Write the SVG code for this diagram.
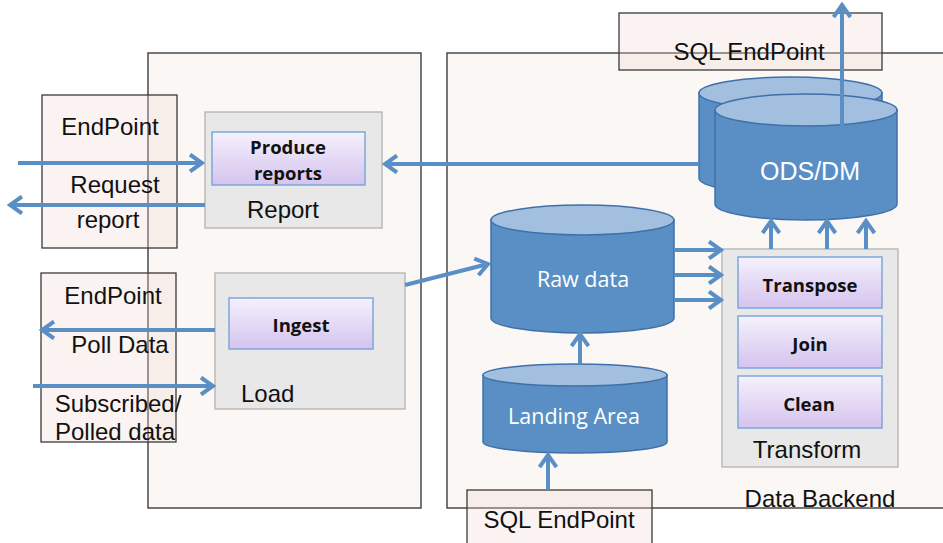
<svg xmlns="http://www.w3.org/2000/svg" width="943" height="543" viewBox="0 0 943 543">
<style>
.panel{fill:#faf7f4;stroke:#4a4a4a;stroke-width:1.5}
.ep{fill:#f2d6d2;fill-opacity:0.3;stroke:#3a3a3a;stroke-width:1.3}
.grey{fill:#e8e8e8;stroke:#b3b3b3;stroke-width:1.3}
.task{fill:url(#lav);stroke:#7ba7da;stroke-width:1.5}
.body{fill:#5a8fc6;stroke:#3f70aa;stroke-width:1.5}
.top{fill:#a2bfdf;stroke:#3f70aa;stroke-width:1.5}
.lbl{font-family:"Liberation Sans",Arial,sans-serif;font-size:24px;fill:#111}
.w{font-family:"Liberation Sans",Arial,sans-serif;font-size:25px;fill:#fff}
.cyl{font-family:"Open Sans","Noto Sans",sans-serif;font-size:21.5px;fill:#fff}
.b{font-family:"Open Sans","Noto Sans",sans-serif;font-size:18.5px;font-weight:bold;fill:#111}
.c{text-anchor:middle}
.arr{stroke:#5a8fc6;stroke-width:4;fill:none;marker-end:url(#ah)}
</style>
<defs>
<linearGradient id="lav" x1="0" y1="0" x2="0" y2="1">
<stop offset="0" stop-color="#f5f1fc"/>
<stop offset="1" stop-color="#d5c3ee"/>
</linearGradient>
<marker id="ah" markerUnits="userSpaceOnUse" viewBox="0 0 20 20" markerWidth="20" markerHeight="20" refX="17" refY="10" orient="auto">
<path d="M5,1.5 L17,10 L5,18.5" fill="none" stroke="#5a8fc6" stroke-width="4"/>
</marker>
</defs>

<g id="panel-left"><rect class="panel" x="148" y="53" width="273" height="455"/></g>
<g id="panel-backend"><rect class="panel" x="447" y="53" width="510" height="455"/>
<text class="lbl c" x="820" y="507">Data Backend</text></g>

<g id="endpoint-report"><rect class="ep" x="42" y="95" width="135" height="153"/>
<text class="lbl c" x="110" y="135">EndPoint</text>
<text class="lbl c" x="115" y="193">Request</text>
<text class="lbl c" x="108" y="228">report</text></g>

<g id="endpoint-load"><rect class="ep" x="41" y="273" width="135" height="169"/>
<text class="lbl c" x="113" y="304">EndPoint</text>
<text class="lbl c" x="120" y="353">Poll Data</text>
<text class="lbl c" x="118" y="412">Subscribed/</text>
<text class="lbl c" x="115" y="440">Polled data</text></g>

<g id="sql-top"><rect class="ep" x="619" y="13" width="263" height="57"/>
<text class="lbl c" x="749" y="60">SQL EndPoint</text></g>

<g id="sql-bottom"><rect class="ep" x="467" y="490" width="185" height="60"/>
<text class="lbl c" x="559" y="528">SQL EndPoint</text></g>

<g id="report"><rect class="grey" x="205" y="112" width="177" height="116"/>
<text class="lbl c" x="283" y="218">Report</text></g>
<g id="produce-reports"><rect class="task" x="212" y="132" width="153" height="53"/>
<text class="b c" x="288" y="154">Produce</text>
<text class="b c" x="288" y="180">reports</text></g>

<g id="load"><rect class="grey" x="215" y="273" width="190" height="136"/>
<text class="lbl" x="241" y="402">Load</text></g>
<g id="ingest"><rect class="task" x="229" y="298" width="144" height="51"/>
<text class="b c" x="301" y="332">Ingest</text></g>

<g id="ods-dm">
<path class="body" d="M699,93 L699,178 A91.5,16 0 0 0 882,178 L882,93 Z"/>
<ellipse class="top" cx="790.5" cy="93" rx="91.5" ry="16"/>
<path class="body" d="M715,110 L715,204 A91,16 0 0 0 897,204 L897,110 Z"/>
<ellipse class="top" cx="806" cy="110" rx="91" ry="16"/>
<text class="w c" x="810" y="180">ODS/DM</text></g>

<g id="raw-data">
<path class="body" d="M491,220 L491,318 A91.5,15 0 0 0 674,318 L674,220 Z"/>
<ellipse class="top" cx="582.5" cy="220" rx="91.5" ry="15"/>
<text class="cyl c" x="583" y="287">Raw data</text></g>

<g id="landing-area">
<path class="body" d="M483,375 L483,442 A92,11 0 0 0 667,442 L667,375 Z"/>
<ellipse class="top" cx="575" cy="375" rx="92" ry="11"/>
<text class="cyl c" x="574" y="424">Landing Area</text></g>

<g id="transform"><rect class="grey" x="722" y="249" width="176" height="218"/>
<text class="lbl c" x="807" y="458">Transform</text></g>
<g id="transpose"><rect class="task" x="738" y="257" width="144" height="51"/>
<text class="b c" x="810" y="292">Transpose</text></g>
<g id="join"><rect class="task" x="738" y="316" width="144" height="52"/>
<text class="b c" x="810" y="351">Join</text></g>
<g id="clean"><rect class="task" x="738" y="376" width="144" height="52"/>
<text class="b c" x="809" y="411">Clean</text></g>

<g id="connectors">
<line class="arr" x1="18" y1="163" x2="202" y2="163"/>
<line class="arr" x1="205" y1="205" x2="10" y2="205"/>
<line class="arr" x1="699" y1="164" x2="385" y2="164"/>
<line class="arr" x1="215" y1="330" x2="42" y2="330"/>
<line class="arr" x1="33" y1="386" x2="213" y2="386"/>
<line class="arr" x1="405" y1="285" x2="488" y2="264"/>
<line class="arr" x1="674" y1="250" x2="721" y2="250"/>
<line class="arr" x1="674" y1="275" x2="721" y2="275"/>
<line class="arr" x1="674" y1="300" x2="721" y2="300"/>
<line class="arr" x1="771" y1="249" x2="771" y2="221"/>
<line class="arr" x1="827" y1="249" x2="827" y2="221"/>
<line class="arr" x1="866" y1="249" x2="866" y2="221"/>
<line class="arr" x1="580" y1="364" x2="580" y2="334"/>
<line class="arr" x1="548" y1="490" x2="548" y2="455"/>
<line class="arr" x1="842" y1="128" x2="842" y2="5"/>
</g>
</svg>
